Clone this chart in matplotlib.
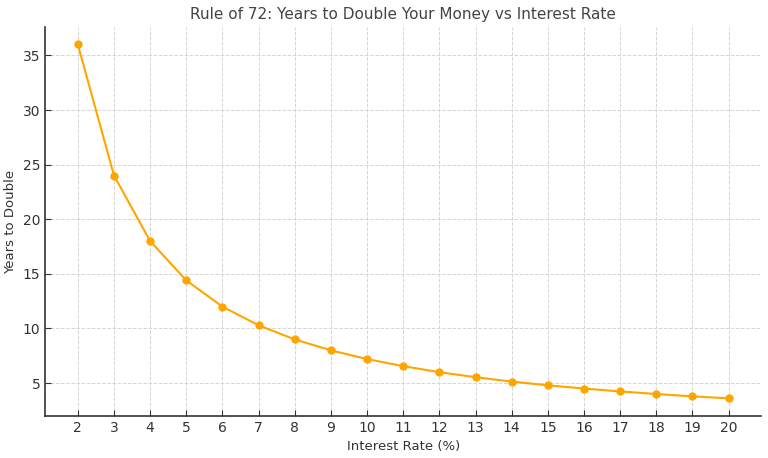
import matplotlib
matplotlib.use('Agg')
import matplotlib.pyplot as plt

# 数据：利率 (%) 与翻倍年数
rates = [2, 3, 4, 5, 6, 7, 8, 9, 10, 11, 12, 13, 14, 15, 16, 17, 18, 19, 20]
years = [36.0, 24.0, 18.0, 14.4, 12.0, 10.29, 9.0, 8.0, 7.2, 6.55,
         6.0, 5.54, 5.14, 4.8, 4.5, 4.24, 4.0, 3.79, 3.6]

TEXT = '#333333'
LINE = '#FFA500'

fig = plt.figure(figsize=(7.68, 4.58), dpi=100)
ax = fig.add_axes([0.059, 0.092, 0.932, 0.849])

ax.plot(rates, years, 'o-', color=LINE, lw=1.5, markersize=5)

ax.set_xticks(rates)
ax.set_xlim(1.1, 20.9)
ax.set_ylim(2, 37.6)
ax.set_yticks([5, 10, 15, 20, 25, 30, 35])

ax.set_title('Rule of 72: Years to Double Your Money vs Interest Rate', fontsize=11, color='#444444')
ax.set_xlabel('Interest Rate (%)', fontsize=9.5, color=TEXT)
ax.set_ylabel('Years to Double', fontsize=9.5, color=TEXT)

ax.grid(linestyle='--', color='#d5d5d5', lw=0.7)
ax.set_axisbelow(True)
ax.tick_params(direction='in', colors=TEXT, labelsize=10, length=4)
for s in ['top', 'right']:
    ax.spines[s].set_visible(False)
for s in ['left', 'bottom']:
    ax.spines[s].set_color(TEXT)
    ax.spines[s].set_linewidth(1.2)

plt.savefig('out.png', dpi=100)
